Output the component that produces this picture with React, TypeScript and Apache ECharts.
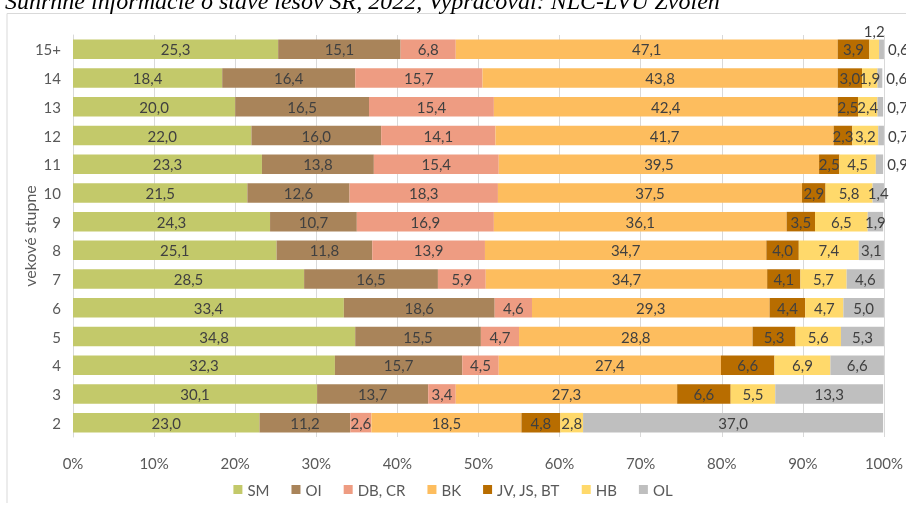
import React, { useEffect, useRef } from "react";
import * as echarts from "echarts";

const categories = ["2", "3", "4", "5", "6", "7", "8", "9", "10", "11", "12", "13", "14", "15+"];
const seriesNames = ["SM", "OI", "DB, CR", "BK", "JV, JS, BT", "HB", "OL"];
const SM = [23.0, 30.1, 32.3, 34.8, 33.4, 28.5, 25.1, 24.3, 21.5, 23.3, 22.0, 20.0, 18.4, 25.3];
const OI = [11.2, 13.7, 15.7, 15.5, 18.6, 16.5, 11.8, 10.7, 12.6, 13.8, 16.0, 16.5, 16.4, 15.1];
const DB = [2.6, 3.4, 4.5, 4.7, 4.6, 5.9, 13.9, 16.9, 18.3, 15.4, 14.1, 15.4, 15.7, 6.8];
const BK = [18.5, 27.3, 27.4, 28.8, 29.3, 34.7, 34.7, 36.1, 37.5, 39.5, 41.7, 42.4, 43.8, 47.1];
const JV = [4.8, 6.6, 6.6, 5.3, 4.4, 4.1, 4.0, 3.5, 2.9, 2.5, 2.3, 2.5, 3.0, 3.9];
const HB = [2.8, 5.5, 6.9, 5.6, 4.7, 5.7, 7.4, 6.5, 5.8, 4.5, 3.2, 2.4, 1.9, 1.2];
const OL = [37.0, 13.3, 6.6, 5.3, 5.0, 4.6, 3.1, 1.9, 1.4, 0.9, 0.7, 0.7, 0.6, 0.6];
const xTicks = [0, 10, 20, 30, 40, 50, 60, 70, 80, 90, 100];
const titleText = "Súhrnné informácie o stave lesov SR, 2022, Vypracoval: NLC-LVÚ Zvolen";

const colors = ["#c3c96a", "#a9845a", "#ee9c82", "#fdbd5e", "#b86d00", "#ffd96b", "#bfbfbf"];
const FONT = "Lato, 'Noto Sans', sans-serif";

export default function App() {
  const ref = useRef<HTMLDivElement>(null);
  useEffect(() => {
    if (!ref.current) return;
    const chart = echarts.init(ref.current, undefined, { renderer: "svg" });
    const all = [SM, OI, DB, BK, JV, HB, OL];
    const fmt = (v: number) => v.toFixed(1).replace(".", ",");
    const series = all.map((arr, si) => ({
      name: seriesNames[si],
      type: "bar",
      stack: "total",
      barCategoryGap: "32%",
      itemStyle: { color: colors[si] },
      label: {
        show: true,
        position: "inside",
        color: "#404040",
        fontSize: 15,
        fontFamily: FONT,
        formatter: (p: any) => fmt(p.value),
      },
      data: arr.map((v) => {
        if (si === 6 && v < 1.0) return { value: v, label: { position: "right", distance: 4 } };
        if (si === 5 && v < 1.5) return { value: v, label: { position: "top", distance: 1 } };
        return { value: v };
      }),
    }));
    chart.setOption({
      animation: false,
      textStyle: { fontFamily: FONT },
      grid: { left: 73, right: 22, top: 35, bottom: 69, containLabel: false },
      xAxis: {
        type: "value",
        min: 0,
        max: 100,
        interval: 10,
        axisLine: { show: false },
        axisTick: { show: false },
        splitLine: { show: true, lineStyle: { color: "#d9d9d9", width: 1 } },
        axisLabel: {
          color: "#595959",
          fontSize: 15,
          margin: 18,
          fontFamily: FONT,
          formatter: (v: number) => (xTicks.includes(v) ? v + "%" : ""),
        },
      },
      yAxis: {
        type: "category",
        data: categories,
        name: "vekové stupne",
        nameLocation: "middle",
        nameGap: 36,
        nameMoveOverlap: false,
        nameTextStyle: { color: "#595959", fontSize: 16, fontFamily: FONT },
        axisLine: { show: true, lineStyle: { color: "#d9d9d9", width: 1 } },
        axisTick: { show: false },
        axisLabel: { color: "#595959", fontSize: 15, margin: 12, fontFamily: FONT },
      },
      legend: {
        data: seriesNames,
        bottom: 4,
        left: "center",
        icon: "rect",
        itemWidth: 9,
        itemHeight: 9,
        itemGap: 22,
        textStyle: { color: "#595959", fontSize: 15, fontFamily: FONT },
      },
      graphic: [
        {
          type: "polyline",
          silent: true,
          shape: { points: [[7, 503], [7, 13.5], [1000, 13.5]] },
          style: { stroke: "#d9d9d9", fill: "none", lineWidth: 1 },
        },
        {
          type: "text",
          left: 5,
          top: -11,
          style: {
            text: titleText,
            font: "italic 24px 'Liberation Serif', 'Times New Roman', serif",
            fill: "#000000",
          },
        },
      ],
      series,
    });
    return () => chart.dispose();
  }, []);
  return <div ref={ref} style={{ position: "fixed", left: 0, top: 0, width: 906, height: 506 }} />;
}
